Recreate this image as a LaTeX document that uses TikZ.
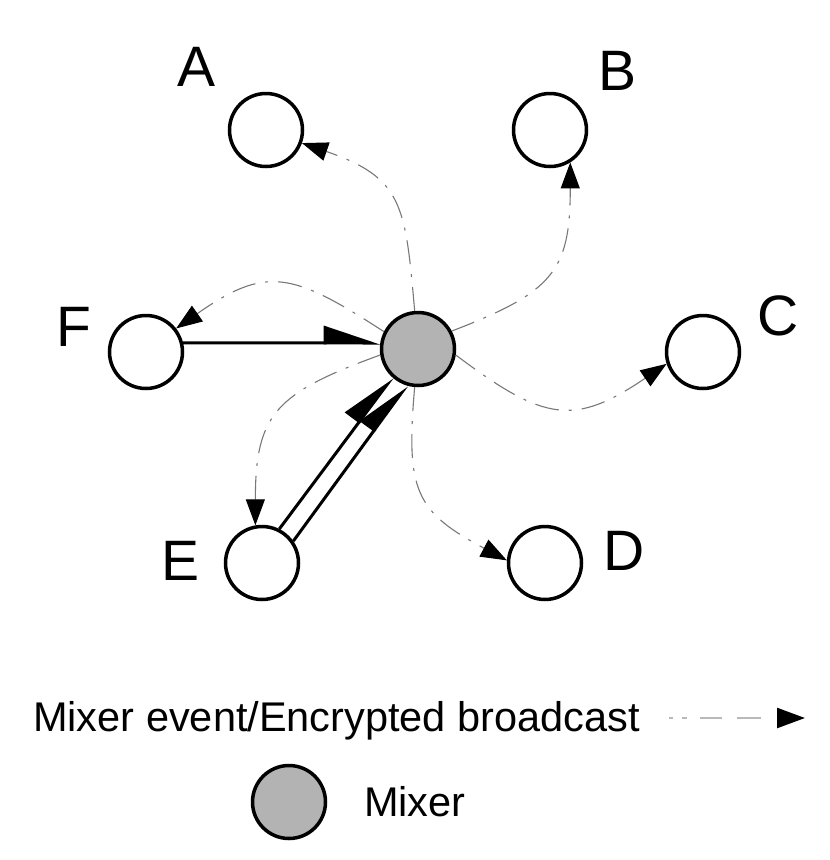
\documentclass[tikz,border=0pt]{standalone}
\usepackage{fontspec}
\setmainfont{Liberation Sans}
\usetikzlibrary{arrows.meta}
\definecolor{MixGray}{RGB}{179,179,179}
\definecolor{LineGray}{RGB}{120,120,120}
\definecolor{LegGray}{RGB}{185,185,185}
\begin{document}
\begin{tikzpicture}[x=1pt,y=-1pt,
  peer/.style={circle,draw,line width=3.5pt,fill=white,minimum size=73pt,inner sep=0},
  mixer/.style={peer,fill=MixGray},
  lbl/.style={font=\fontsize{57}{68}\selectfont,inner sep=0},
  legtext/.style={anchor=base west,inner sep=0,font=\fontsize{41.5}{50}\selectfont},
  bcast/.style={LineGray,line width=1.1pt,dash pattern=on 24pt off 10pt on 3pt off 10pt,looseness=1.35,
    -{Triangle[length=26pt,width=19pt,black]}},
  feed/.style={line width=3pt,-{Triangle[left,length=52pt,width=34pt]}}]
\useasboundingbox (0,0) rectangle (830,860);
\node[peer] (a) at (266,130){};\node[lbl] (la) at (197,67){A};
\node[peer] (b) at (550,130){};\node[lbl] (lb) at (618,71){B};
\node[peer] (c) at (703,352){};\node[lbl] (lc) at (778,316){C};
\node[peer] (d) at (545,563){};\node[lbl] (ld) at (624,551){D};
\node[peer] (e) at (262,563){};\node[lbl] (le) at (181,561){E};
\node[peer] (f) at (146,352){};\node[lbl] (lf) at (74,327){F};
\node[mixer] (mx) at (418,349){};
\draw[bcast] (mx.95) to[out=95,in=-19] (a.-20);
\draw[bcast] (mx.28) to[out=21,in=-90] (b.-58);
\draw[bcast] (mx.-9) to[out=-37,in=-146] (c.198);
\draw[bcast] (mx.-95) to[out=-95,in=152] (d.176);
\draw[bcast] (mx.189) to[out=200,in=90] (e.100);
\draw[bcast] (mx.153) to[out=147,in=35] (f.38);
\draw[feed] (f.14) -- (mx.171);
\draw[feed] (e.63) -- (mx.228);
\draw[feed] (e.35) -- (mx.253);
\node[legtext] (lgtxt) at (33,731){Mixer event/Encrypted broadcast};
\coordinate (lgs) at (669,718);\coordinate (lge) at (805,718);
\draw[LegGray,line width=2.5pt,dash pattern=on 4pt off 9pt on 5pt off 13pt on 22pt off 15pt on 24pt off 20pt,
  -{Triangle[length=28pt,width=20pt,black]}] (lgs) -- (lge);
\node[mixer] (lgmx) at (289,802){};
\node[legtext] (lgmxtxt) at (364,816){Mixer};
\end{tikzpicture}
\end{document}
